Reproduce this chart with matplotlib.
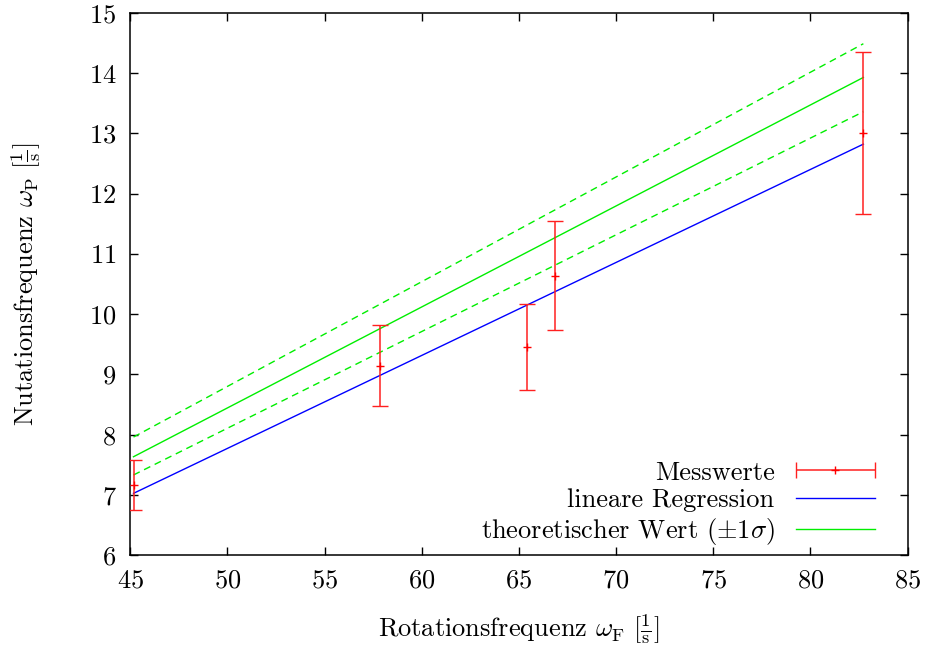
import numpy as np
import matplotlib
matplotlib.use("Agg")
import matplotlib.pyplot as plt
from matplotlib.legend_handler import HandlerErrorbar

plt.rcParams['font.family'] = 'serif'
plt.rcParams['font.serif'] = ['cmr10']
plt.rcParams['mathtext.fontset'] = 'cm'
plt.rcParams['axes.formatter.use_mathtext'] = True
plt.rcParams['axes.unicode_minus'] = False

# Messwerte
omega_F = [45.17, 57.87, 65.43, 66.83, 82.72]
omega_P = [7.163, 9.145, 9.455, 10.64, 13.015]
omega_P_err = [0.41, 0.67, 0.71, 0.90, 1.345]

# lineare Regression: omega_P = a * omega_F + b
reg_a, reg_b = 0.1544, 0.051

# theoretischer Wert und +-1 sigma
theo_a, theo_b = 0.1677, 0.058
theo_hi_a, theo_hi_b = 0.1739, 0.105
theo_lo_a, theo_lo_b = 0.1606, 0.076

xticks = [45, 50, 55, 60, 65, 70, 75, 80, 85]
yticks = [6, 7, 8, 9, 10, 11, 12, 13, 14, 15]

FS = 19

fig = plt.figure(figsize=(9.3, 6.5), dpi=100)
ax = fig.add_axes([0.14, 0.146, 0.836, 0.834])

x = np.array([min(omega_F), max(omega_F)])

ax.errorbar(omega_F, omega_P, yerr=omega_P_err, fmt='+', color='#ff0000',
            ecolor='#ff2020', elinewidth=1.1, capsize=5.5, capthick=1.1,
            markersize=6, markeredgewidth=1, zorder=3)
# proxy for the gnuplot-style horizontal legend sample
mess = ax.errorbar([np.nan], [np.nan], xerr=[np.nan], fmt='+', color='#ff0000',
                   ecolor='#ff2020', elinewidth=1.1, capsize=5.5, capthick=1.1,
                   markersize=6, markeredgewidth=1, label='Messwerte')

reg, = ax.plot(x, reg_a * x + reg_b, color='#0000ff', lw=1,
               label='lineare Regression')
theo, = ax.plot(x, theo_a * x + theo_b, color='#00ee00', lw=1,
                label=r'theoretischer Wert $(\pm1\sigma)$')
ax.plot(x, theo_hi_a * x + theo_hi_b, color='#00ee00', lw=1, dashes=(5, 3.5))
ax.plot(x, theo_lo_a * x + theo_lo_b, color='#00ee00', lw=1, dashes=(5, 3.5))

ax.set_xlim(45, 85)
ax.set_ylim(6, 15)
ax.set_xticks(xticks)
ax.set_yticks(yticks)
ax.tick_params(direction='in', length=6, width=1, top=True, right=True,
               labelsize=FS)
ax.tick_params(axis='x', pad=10)
ax.tick_params(axis='y', pad=10)
for sp in ax.spines.values():
    sp.set_linewidth(1.1)

ax.set_xlabel(r'Rotationsfrequenz $\omega_{\mathrm{F}}\ [\frac{1}{\mathrm{s}}]$',
              fontsize=FS, labelpad=14)
ax.set_ylabel(r'Nutationsfrequenz $\omega_{\mathrm{P}}\ [\frac{1}{\mathrm{s}}]$',
              fontsize=FS, labelpad=33)

ax.legend([mess, reg, theo],
          ['Messwerte', 'lineare Regression', r'theoretischer Wert $(\pm1\sigma)$'],
          loc='lower right', bbox_to_anchor=(0.968, 0.0), frameon=False,
          markerfirst=False, fontsize=FS,
          handlelength=3.0, handletextpad=0.8, labelspacing=0.15,
          borderaxespad=0.0, borderpad=0.3,
          handler_map={type(mess): HandlerErrorbar(xerr_size=1.5)})

fig.savefig('out.png', dpi=100)
